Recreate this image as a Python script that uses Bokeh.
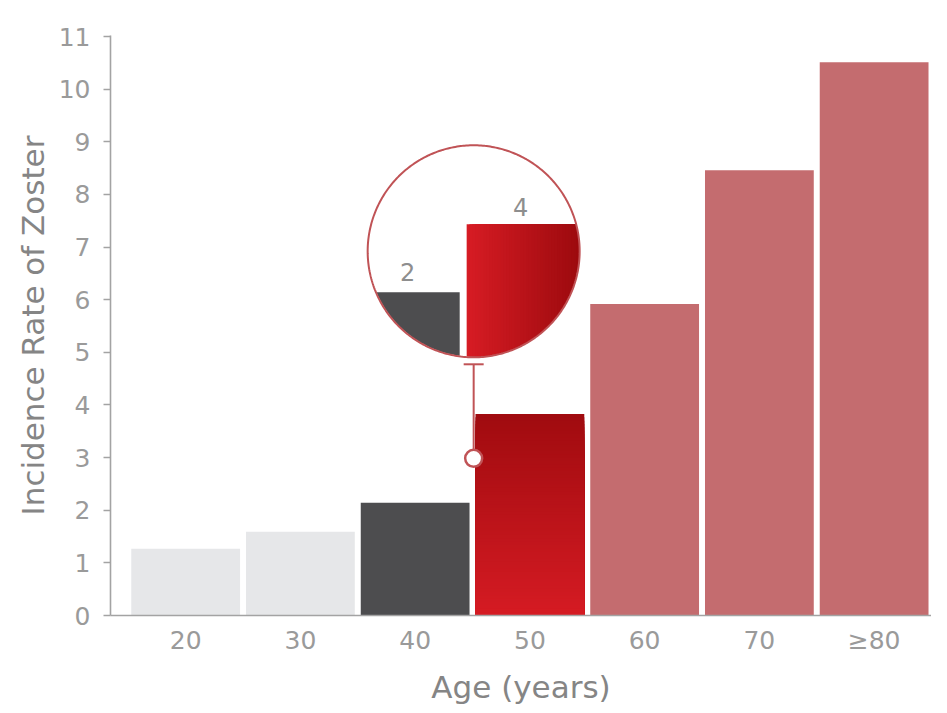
import numpy as np
from bokeh.plotting import figure
from bokeh.models import Range1d, FixedTicker
from bokeh.core.properties import value
from bokeh.embed import file_html
from bokeh.resources import INLINE

# ---------------- data ----------------
ages = ["20", "30", "40", "50", "60", "70", "≥80"]
rates = [1.27, 1.59, 2.14, 3.83, 5.92, 8.46, 10.51]
groups = ["light", "light", "dark", "focus", "pink", "pink", "pink"]
y_ticks = list(range(0, 12))
mag_labels = ["2", "4"]

# ---------------- styles ----------------
group_colors = {"light": "#e6e7e9", "dark": "#4d4d4f", "pink": "#c46c6f"}
focus_top, focus_bottom = "#a00b0f", "#d51b23"
mag_left, mag_right = "#d71c24", "#9c0a0e"
ring_color = "#c05356"
axis_color = "#a3a3a3"
tick_text = "#9a9a9a"
title_text = "#858585"
FONT = "DejaVu Sans"

FW, FH = 821, 580
x0, x1 = -0.655, 6.5
y0, y1 = 0.0, 11.02
sx = FW / (x1 - x0)
sy = FH / (y1 - y0)

p = figure(frame_width=FW, frame_height=FH,
           x_range=Range1d(x0, x1), y_range=Range1d(y0, y1),
           output_backend="svg", toolbar_location=None,
           min_border_left=110, min_border_right=0,
           min_border_top=35, min_border_bottom=80)
p.outline_line_color = None
p.xgrid.visible = False
p.ygrid.visible = False
p.background_fill_color = "white"
p.border_fill_color = "white"

# ---------------- bars ----------------
xs = list(range(len(ages)))
W = 0.948
plain_x = [x for x, g in zip(xs, groups) if g != "focus"]
plain_top = [r for r, g in zip(rates, groups) if g != "focus"]
plain_col = [group_colors[g] for g in groups if g != "focus"]
p.vbar(x=plain_x, top=plain_top, bottom=0, width=W, fill_color=plain_col, line_color=None)


def lerp_hex(c1, c2, t):
    a = [int(c1[i:i + 2], 16) for i in (1, 3, 5)]
    b = [int(c2[i:i + 2], 16) for i in (1, 3, 5)]
    c = [round(a[k] + (b[k] - a[k]) * t) for k in range(3)]
    return "#%02x%02x%02x" % tuple(c)


N = 60
focus_x = 3
for x, r, g in zip(xs, rates, groups):
    if g != "focus":
        continue
    focus_x = x
    # tallest first, each strip from the base so there are no seams
    tops = [r * (N - i) / N for i in range(N)]
    cols = [lerp_hex(focus_bottom, focus_top, (N - i - 0.5) / N) for i in range(N)]
    p.quad(left=x - W / 2, right=x + W / 2, bottom=0, top=tops, fill_color=cols, line_color=None)

# ---------------- magnifier (decoration, screen-pixel offsets) ----------------
cx = focus_x - 0.49        # in the gap between the 40 and 50 bars
cy = 6.92
R = 106


def to_data(pts):
    return [cx + u / sx for u, v in pts], [cy + v / sy for u, v in pts]


def clip_rect(poly, xmin, xmax, ymin, ymax):
    def clip(pts, inside, inter):
        out = []
        n = len(pts)
        for i in range(n):
            cur, prev = pts[i], pts[i - 1]
            if inside(cur):
                if not inside(prev):
                    out.append(inter(prev, cur))
                out.append(cur)
            elif inside(prev):
                out.append(inter(prev, cur))
        return out

    def ix(xc):
        return lambda a, b: (xc, a[1] + (b[1] - a[1]) * (xc - a[0]) / (b[0] - a[0]))

    def iy(yc):
        return lambda a, b: (a[0] + (b[0] - a[0]) * (yc - a[1]) / (b[1] - a[1]), yc)

    pts = clip(poly, lambda q: q[0] >= xmin, ix(xmin))
    pts = clip(pts, lambda q: q[0] <= xmax, ix(xmax))
    pts = clip(pts, lambda q: q[1] >= ymin, iy(ymin))
    pts = clip(pts, lambda q: q[1] <= ymax, iy(ymax))
    return pts


th = np.linspace(0, 2 * np.pi, 361)[:-1]
disk = [(R * np.cos(t), R * np.sin(t)) for t in th]
inner = [((R - 0.5) * np.cos(t), (R - 0.5) * np.sin(t)) for t in th]

dx, dy = to_data(disk)
p.patch(dx, dy, fill_color="white", line_color=None)

# dark zoomed bar
dk = clip_rect(inner, -300, -14, -300, -41)
kx, ky = to_data(dk)
p.patch(kx, ky, fill_color=group_colors["dark"], line_color=None)

# red zoomed bar with horizontal gradient (each strip runs to the right edge)
M = 40
lx, rx = -7, R
xsx, ysx, cols = [], [], []
for i in range(M):
    a = lx + (rx - lx) * i / M
    seg = clip_rect(inner, a, R + 5, -300, 27)
    if len(seg) < 3:
        continue
    sxs, sys_ = to_data(seg)
    xsx.append(sxs)
    ysx.append(sys_)
    cols.append(lerp_hex(mag_left, mag_right, (i + 0.5) / M))
p.patches(xsx, ysx, fill_color=cols, line_color=None)

# ring outline
p.line(dx + [dx[0]], dy + [dy[0]], line_color=ring_color, line_width=2)

# labels in magnifier
lab_x, lab_y = to_data([(-66, -21), (47, 44)])
p.text(x=lab_x, y=lab_y, text=mag_labels, text_align="center", text_baseline="middle",
       text_font=value(FONT), text_font_size="24px", text_color="#8e8e8e")

# connector
top_y = cy - 113 / sy
dot_y = cy - 207 / sy
p.segment(x0=[cx], y0=[dot_y], x1=[cx], y1=[top_y], line_color=ring_color, line_width=2)
p.segment(x0=[cx - 10 / sx], y0=[top_y], x1=[cx + 10 / sx], y1=[top_y],
          line_color=ring_color, line_width=2)
p.scatter(x=[cx], y=[dot_y], size=17, marker="circle", fill_color="white",
          line_color=ring_color, line_width=2.5)

# ---------------- axes ----------------
p.yaxis.ticker = FixedTicker(ticks=y_ticks)
p.yaxis.minor_tick_line_color = None
p.yaxis.major_tick_in = 0
p.yaxis.major_tick_out = 7
p.yaxis.major_label_standoff = 13
p.yaxis.axis_label = "Incidence Rate of Zoster"
p.yaxis.axis_label_standoff = 5

p.xaxis.ticker = FixedTicker(ticks=xs)
p.xaxis.major_label_overrides = {i: a for i, a in zip(xs, ages)}
p.xaxis.minor_tick_line_color = None
p.xaxis.major_tick_in = 0
p.xaxis.major_tick_out = 0
p.xaxis.major_tick_line_color = None
p.xaxis.major_label_standoff = 10
p.xaxis.axis_label = "Age (years)"
p.xaxis.axis_label_standoff = 11

for ax in (p.xaxis, p.yaxis):
    ax.axis_line_color = axis_color
    ax.axis_line_width = 1.6
    ax.major_tick_line_width = 1.6
    ax.major_label_text_font = FONT
    ax.major_label_text_font_size = "25px"
    ax.major_label_text_color = tick_text
    ax.axis_label_text_font = FONT
    ax.axis_label_text_font_size = "31px"
    ax.axis_label_text_font_style = "normal"
    ax.axis_label_text_color = title_text
p.yaxis.major_tick_line_color = axis_color

open("out.html", "w").write(file_html(p, INLINE))
